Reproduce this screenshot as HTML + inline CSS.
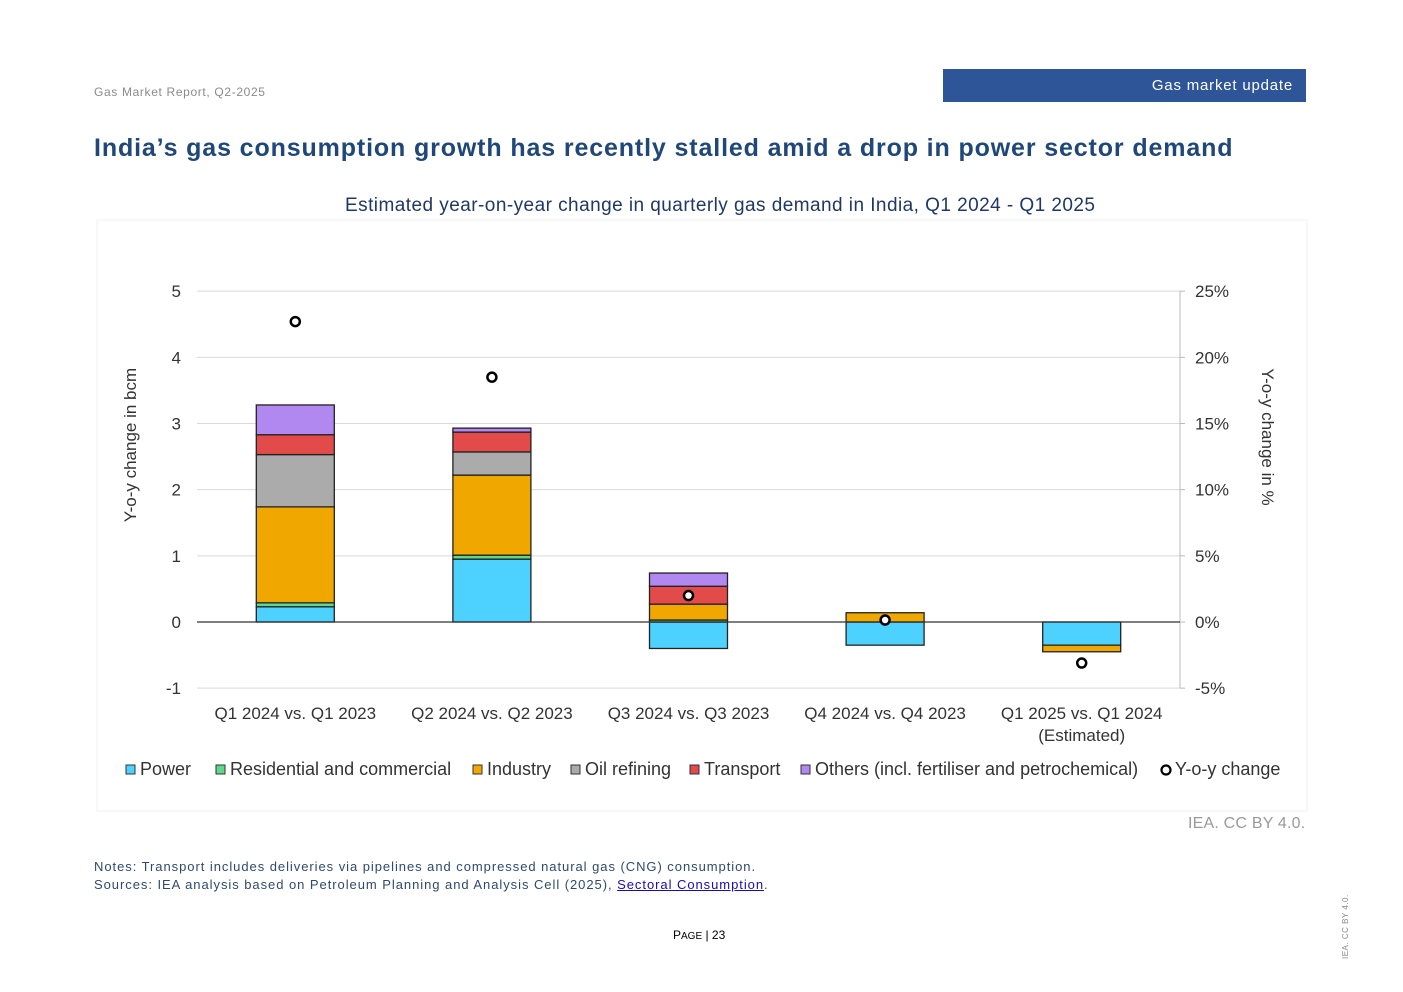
<!DOCTYPE html>
<html><head><meta charset="utf-8"><style>
body{margin:0;background:#fff;font-family:"Liberation Sans",sans-serif;}
#pg{position:relative;width:1403px;height:992px;overflow:hidden;}
.a{position:absolute;white-space:nowrap;}
</style></head><body><div id="pg">
<div class="a" style="left:94px;top:85px;font-size:12px;color:#8a8a8a;letter-spacing:0.65px;">Gas Market Report, Q2-2025</div>
<div class="a" style="left:943px;top:69px;width:363px;height:33px;background:#2e5597;"><span style="position:absolute;right:13px;top:8px;color:#fff;font-size:15px;letter-spacing:0.8px;">Gas market update</span></div>
<div class="a" style="left:94px;top:134px;font-size:25px;font-weight:bold;color:#1f4778;letter-spacing:0.87px;">India’s gas consumption growth has recently stalled amid a drop in power sector demand</div>
<div class="a" style="left:345px;top:195px;font-size:19px;color:#1f3864;letter-spacing:0.45px;">Estimated year-on-year change in quarterly gas demand in India, Q1 2024 - Q1 2025</div>
<svg class="a" style="left:0;top:0" width="1403" height="992" id="ch"></svg>
<div class="a" style="left:1188px;top:815px;font-size:16px;color:#999;letter-spacing:0.2px;">IEA. CC BY 4.0.</div>
<div class="a" style="left:94px;top:858px;font-size:13px;color:#2f4a6d;line-height:18px;letter-spacing:0.95px;">Notes: Transport includes deliveries via pipelines and compressed natural gas (CNG) consumption.<br>Sources: IEA analysis based on Petroleum Planning and Analysis Cell (2025), <a style="color:#1a0dab;text-decoration:underline;">Sectoral Consumption</a>.</div>
<div class="a" style="left:673px;top:928px;font-size:12px;color:#000;">P<span style="font-size:10px">AGE</span> | 23</div>
<div class="a" style="left:1341px;top:959px;font-size:8px;color:#888;letter-spacing:0.5px;transform:rotate(-90deg);transform-origin:left top;">IEA. CC BY 4.0.</div>
</div>
<script>
const categories=["Q1 2024 vs. Q1 2023","Q2 2024 vs. Q2 2023","Q3 2024 vs. Q3 2023","Q4 2024 vs. Q4 2023","Q1 2025 vs. Q1 2024"];
const power=[0.23,0.95,-0.4,-0.35,-0.35];
const residential=[0.06,0.06,0.03,0,0];
const industry=[1.45,1.21,0.24,0.14,-0.1];
const oilRefining=[0.79,0.35,0,0,0];
const transport=[0.30,0.30,0.27,0,0];
const others=[0.45,0.06,0.2,0,0];
const yoyPct=[22.7,18.5,2.0,0.15,-3.1];
const leftTicks=[-1,0,1,2,3,4,5];
const rightTicks=["-5%","0%","5%","10%","15%","20%","25%"];
const NS="http://www.w3.org/2000/svg";
const svg=document.getElementById('ch');
function mk(t,a,p){const e=document.createElementNS(NS,t);for(const k in a)e.setAttribute(k,a[k]);(p||svg).appendChild(e);return e;}
const X0=197,X1=1180,Y0=622,PX=66.17;
const y=v=>Y0-v*PX, yr=p=>Y0-p/5*PX;
const xc=i=>X0+(X1-X0)*(i+0.5)/categories.length;
let bg=mk('rect',{x:97,y:220,width:1210,height:591,fill:'#fff',stroke:'#f0f0f0'});

leftTicks.forEach((v,i)=>{
 let g=mk('line',{x1:X0,x2:X1,y1:y(v),y2:y(v),stroke:'#d9d9d9','stroke-width':1});
 
 let t=mk('text',{x:181,y:y(v)+6,'text-anchor':'end','font-size':17,fill:'#333'});t.textContent=v;
 
 let r=mk('text',{x:1195,y:y(v)+6,'font-size':17,fill:'#333'});r.textContent=rightTicks[i];
 
 let tk=mk('line',{x1:X1,x2:X1+5,y1:y(v),y2:y(v),stroke:'#bbb'});
 
});
let ra=mk('line',{x1:X1,x2:X1,y1:y(5),y2:y(-1),stroke:'#bbb'});

const series=[[power,'#4dd2ff','power'],[residential,'#5ed88a','residential'],[industry,'#f0a800','industry'],[oilRefining,'#ababab','oil-refining'],[transport,'#e34a4a','transport'],[others,'#b088f0','others']];
categories.forEach((c,i)=>{
 let pos=0,neg=0;
 series.forEach(([arr,col,nm])=>{
  const v=arr[i];if(!v)return;
  let top,bot;
  if(v>0){bot=pos;pos+=v;top=pos;}else{top=neg;neg+=v;bot=neg;}
  let r=mk('rect',{x:xc(i)-39,y:y(top),width:78,height:y(bot)-y(top),fill:col,stroke:'#222','stroke-width':1.3});
  
 });
 let t=mk('text',{x:xc(i),y:719,'text-anchor':'middle','font-size':17,fill:'#333'});t.textContent=c;
 
});
let t5=mk('text',{x:xc(4),y:741,'text-anchor':'middle','font-size':17,fill:'#333'});t5.textContent='(Estimated)';

let zl=mk('line',{x1:X0,x2:X1,y1:Y0,y2:Y0,stroke:'#333','stroke-width':1.2});

yoyPct.forEach((p,i)=>{let d=mk('circle',{cx:xc(i),cy:yr(p),r:4.5,fill:'#fff',stroke:'#000','stroke-width':2.5});
 });
let yl=mk('text',{x:136,y:445,'text-anchor':'middle','font-size':17,fill:'#333',transform:'rotate(-90 136 445)'});yl.textContent='Y-o-y change in bcm';

let yr2=mk('text',{x:1262,y:437,'text-anchor':'middle','font-size':17,fill:'#333',transform:'rotate(90 1262 437)'});yr2.textContent='Y-o-y change in %';

const legend=[['Power','#4dd2ff',126],['Residential and commercial','#5ed88a',216],['Industry','#f0a800',473],['Oil refining','#ababab',571],['Transport','#e34a4a',690],['Others (incl. fertiliser and petrochemical)','#b088f0',801]];
legend.forEach(([n,c,x])=>{
 let r=mk('rect',{x:x,y:765,width:9,height:9,fill:c,stroke:'#333','stroke-width':1});
 
 let t=mk('text',{x:x+14,y:775,'font-size':18,fill:'#333'});t.textContent=n;
 
});
let lc=mk('circle',{cx:1166,cy:770,r:4.5,fill:'#fff',stroke:'#000','stroke-width':2.2});

let lt=mk('text',{x:1175,y:775,'font-size':18,fill:'#333'});lt.textContent='Y-o-y change';

</script></body></html>
